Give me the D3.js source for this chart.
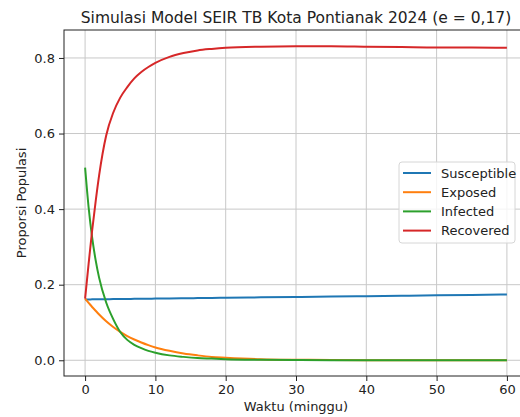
<!DOCTYPE html>
<html>
<head>
<meta charset="utf-8">
<script src="https://cdn.jsdelivr.net/npm/d3@7"></script>
<style>
  body { margin: 0; background: #fff; }
  text { font-family: "DejaVu Sans", sans-serif; fill: #222; }
  .axis path { display: none; }
  .axis line { stroke: #222; }
</style>
</head>
<body>
<div class="chart"></div>
<script>
// weeks
var times = [0, 0.5, 1, 1.5, 2, 3, 4, 5, 6, 7, 8, 9, 10, 12, 14, 16, 18, 20, 25, 30, 35, 40, 45, 50, 55, 60];

var susceptible = [0.1610, 0.1611, 0.1612, 0.1613, 0.1614, 0.1617, 0.1619, 0.1621, 0.1623, 0.1625, 0.1627, 0.1630, 0.1632,
                   0.1636, 0.1641, 0.1645, 0.1649, 0.1654, 0.1665, 0.1676, 0.1686, 0.1697, 0.1708, 0.1719, 0.1730, 0.1740];
var exposed     = [0.163, 0.152, 0.141, 0.131, 0.121, 0.103, 0.088, 0.075, 0.064, 0.055, 0.047, 0.040, 0.034,
                   0.025, 0.018, 0.013, 0.009, 0.007, 0.003, 0.0015, 0.0008, 0.0004, 0.0002, 0.0001, 0.0001, 0.0001];
var infected    = [0.510, 0.405, 0.325, 0.265, 0.218, 0.153, 0.109, 0.075, 0.054, 0.041, 0.032, 0.025, 0.020,
                   0.013, 0.009, 0.006, 0.0045, 0.003, 0.0015, 0.0008, 0.0004, 0.0002, 0.0001, 0.0001, 0.0001, 0.0001];
var recovered   = [0.163, 0.255, 0.343, 0.420, 0.490, 0.595, 0.655, 0.695, 0.723, 0.746, 0.763, 0.776, 0.787,
                   0.803, 0.813, 0.820, 0.824, 0.827, 0.830, 0.831, 0.831, 0.830, 0.829, 0.828, 0.828, 0.827];

var seriesNames = ["Susceptible", "Exposed", "Infected", "Recovered"];
var seriesColors = ["#1f77b4", "#ff7f0e", "#2ca02c", "#d62728"];
var xTicks = [0, 10, 20, 30, 40, 50, 60];
var yTicks = [0, 0.2, 0.4, 0.6, 0.8];

var W = 520, H = 417;
var margin = { top: 30, left: 64 },
    plotW = 464,   // runs past the right edge of the picture, as in the original
    plotH = 346;

var series = [susceptible, exposed, infected, recovered].map(function(vals, i) {
  return {
    name: seriesNames[i],
    color: seriesColors[i],
    values: vals.map(function(v, j) { return { t: times[j], v: v }; })
  };
});

var x = d3.scaleLinear().domain([-3, 63]).range([0, plotW]);
var y = d3.scaleLinear().domain([-0.0416, 0.874]).range([plotH, 0]);

var svg = d3.select(".chart").append("svg")
    .attr("width", W)
    .attr("height", H);

var g = svg.append("g")
    .attr("transform", "translate(" + margin.left + "," + margin.top + ")");

// grid
g.append("g").selectAll("line").data(xTicks).enter().append("line")
    .attr("x1", function(d) { return x(d); }).attr("x2", function(d) { return x(d); })
    .attr("y1", 0).attr("y2", plotH)
    .attr("stroke", "#c8c8c8").attr("stroke-width", 1);
g.append("g").selectAll("line").data(yTicks).enter().append("line")
    .attr("x1", 0).attr("x2", plotW)
    .attr("y1", function(d) { return y(d); }).attr("y2", function(d) { return y(d); })
    .attr("stroke", "#c8c8c8").attr("stroke-width", 1);

var line = d3.line()
    .curve(d3.curveMonotoneX)
    .x(function(d) { return x(d.t); })
    .y(function(d) { return y(d.v); });

g.selectAll(".series").data(series).enter().append("path")
    .attr("class", "series")
    .attr("fill", "none")
    .attr("stroke", function(d) { return d.color; })
    .attr("stroke-width", 2)
    .attr("d", function(d) { return line(d.values); });

// frame
g.append("rect")
    .attr("x", 0).attr("y", 0)
    .attr("width", plotW).attr("height", plotH)
    .attr("fill", "none").attr("stroke", "#222").attr("stroke-width", 1);

g.append("g")
    .attr("class", "axis")
    .attr("transform", "translate(0," + plotH + ")")
    .call(d3.axisBottom(x).tickValues(xTicks).tickSize(5).tickPadding(4))
    .selectAll("text").style("font-size", "13px");

g.append("g")
    .attr("class", "axis")
    .call(d3.axisLeft(y).tickValues(yTicks).tickFormat(d3.format(".1f")).tickSize(5).tickPadding(4))
    .selectAll("text").style("font-size", "13px");

svg.append("text")
    .attr("x", 296).attr("y", 23)
    .attr("text-anchor", "middle")
    .style("font-size", "15.5px")
    .text("Simulasi Model SEIR TB Kota Pontianak 2024 (e = 0,17)");

svg.append("text")
    .attr("x", 296).attr("y", 411)
    .attr("text-anchor", "middle")
    .style("font-size", "13px")
    .text("Waktu (minggu)");

svg.append("text")
    .attr("transform", "translate(26," + (margin.top + plotH / 2) + ") rotate(-90)")
    .attr("text-anchor", "middle")
    .style("font-size", "13px")
    .text("Proporsi Populasi");

// legend
var legend = svg.append("g").attr("transform", "translate(399,162)");
legend.append("rect")
    .attr("width", 116).attr("height", 81)
    .attr("rx", 3)
    .attr("fill", "#fff").attr("fill-opacity", 0.8)
    .attr("stroke", "#d6d6d6");

var rows = legend.selectAll(".row").data(series).enter().append("g")
    .attr("transform", function(d, i) { return "translate(0," + (11 + i * 19.2) + ")"; });
rows.append("line")
    .attr("x1", 4).attr("x2", 32)
    .attr("stroke", function(d) { return d.color; })
    .attr("stroke-width", 2);
rows.append("text")
    .attr("x", 42).attr("dy", "0.35em")
    .style("font-size", "13px")
    .text(function(d) { return d.name; });
</script>
</body>
</html>
